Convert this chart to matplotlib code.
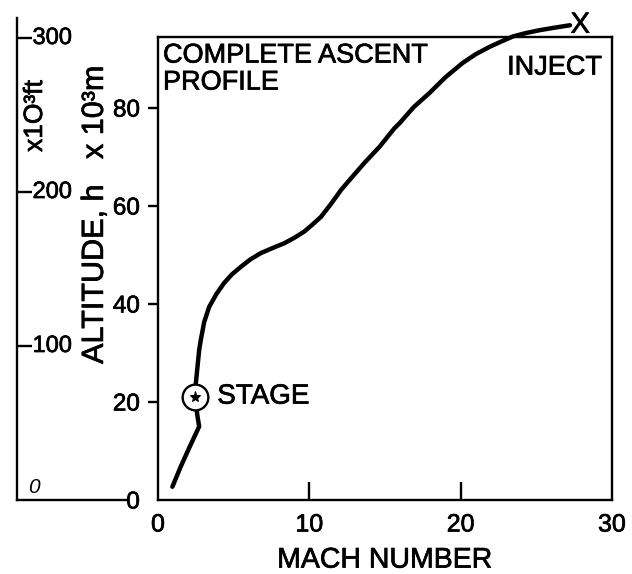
import matplotlib
matplotlib.use("Agg")
import matplotlib.pyplot as plt
import matplotlib.transforms as mtransforms
import matplotlib.patheffects as pe

plt.rcParams['font.family'] = ['Liberation Sans', 'DejaVu Sans']
heavy = [pe.withStroke(linewidth=0.5, foreground='black')]
plt.rcParams['path.effects'] = []

# ---- data ----
mach = [0.95, 1.5, 2.1, 2.72, 2.60, 2.45, 2.50, 2.72, 2.83, 3.05, 3.38, 3.85, 4.37,
        4.9, 5.48, 6.1, 6.80, 7.55, 8.34, 9.0, 9.67, 10.2, 10.77, 11.4, 12.10,
        12.85, 13.64, 14.64, 15.63, 15.96, 16.9, 17.95, 19.0, 20.13, 21.0, 21.92,
        22.7, 23.44, 24.3, 25.23, 26.2, 27.22]
alt = [2.7, 6.8, 10.9, 15.0, 17.3, 21.1, 23.8, 30.6, 32.7, 36.3, 39.4, 42.0, 44.3,
       46.1, 47.6, 49.1, 50.4, 51.4, 52.4, 53.5, 54.8, 56.2, 57.8, 60.3, 63.3,
       66.0, 68.8, 72.1, 75.9, 76.9, 80.2, 83.1, 86.3, 89.2, 91.0, 92.5,
       93.6, 94.6, 95.3, 95.9, 96.4, 96.9]
stage_mach = [2.45]
stage_alt = [21.1]
inject_mach = 27.9
inject_alt = 97.0

x_ticks = [0, 10, 20, 30]
y_ticks_m = [0, 20, 40, 60, 80]
y_ticks_ft = [100, 200, 300]

W, H = 632, 574
fig = plt.figure(figsize=(W / 100, H / 100), dpi=100)
fig.patch.set_facecolor('white')

# main axes
ax = fig.add_axes([158 / W, 1 - 500 / H, (612 - 158) / W, (500 - 37) / H])
ax.set_xlim(0, 30)
ax.set_ylim(0, 94.5)
for s in ax.spines.values():
    s.set_linewidth(1.7)
    s.set_color('black')

ax.plot(mach, alt, color='black', lw=3.2, solid_capstyle='round',
        solid_joinstyle='round', clip_on=False, zorder=3)
ax.plot(stage_mach, stage_alt, 'o', ms=18.5, mfc='white', mec='black', mew=1.7,
        zorder=4, clip_on=False)
ax.plot(stage_mach, stage_alt, '*', ms=8, mfc='black', mec='black', mew=0.8,
        zorder=5)
ax.annotate('STAGE', xy=(stage_mach[0], stage_alt[0]), xytext=(16, 0),
            textcoords='offset points', ha='left', va='center', fontsize=20,
            path_effects=heavy)

ax.text(inject_mach, inject_alt, 'X', ha='center', va='center', fontsize=21,
        clip_on=False, path_effects=heavy)
ax.text(0.978, 0.962, 'INJECT', transform=ax.transAxes, ha='right', va='top',
        fontsize=19.5, path_effects=heavy)
ax.text(0.011, 0.988, 'COMPLETE ASCENT\nPROFILE', transform=ax.transAxes,
        ha='left', va='top', fontsize=19.5, linespacing=1.05, path_effects=heavy)

ax.set_xticks(x_ticks)
ax.set_xticklabels([str(v) for v in x_ticks])
ax.set_yticks(y_ticks_m)
ax.set_yticklabels([str(v) for v in y_ticks_m])
ax.tick_params(axis='x', direction='in', length=13, width=1.7, pad=9,
               labelsize=18)
ax.tick_params(axis='y', direction='out', length=7, width=1.7, pad=6,
               labelsize=17.5)
for t in ax.xaxis.get_major_ticks():
    pass
xt = ax.xaxis.get_major_ticks()
xt[0].tick1line.set_visible(False)
xt[-1].tick1line.set_visible(False)
ax.yaxis.get_major_ticks()[0].tick1line.set_visible(False)
for lab in ax.get_xticklabels() + ax.get_yticklabels():
    lab.set_path_effects(heavy)
ax.set_xlabel('MACH NUMBER', fontsize=20.5, labelpad=8, path_effects=heavy)
ax.text(-0.139, 0.616, 'ALTITUDE, h   x 10³m', transform=ax.transAxes,
        rotation=90, ha='center', va='center', fontsize=22, path_effects=heavy)

# secondary feet scale
axf = fig.add_axes([17 / W, 1 - 500 / H, (128 - 17) / W, (500 - 18) / H])
axf.set_xlim(0, 1)
axf.set_ylim(0, 313)
axf.patch.set_alpha(0)
axf.spines['top'].set_visible(False)
axf.spines['right'].set_visible(False)
axf.spines['left'].set_linewidth(1.7)
axf.spines['bottom'].set_linewidth(1.7)
axf.set_xticks([])
axf.set_yticks(y_ticks_ft)
axf.tick_params(axis='y', direction='in', length=11, width=1.7,
                labelleft=False)
trans = mtransforms.blended_transform_factory(axf.transAxes, axf.transData)
for v in y_ticks_ft:
    axf.text(0.14, v, str(v), transform=trans, ha='left', va='center',
             fontsize=17, path_effects=heavy)
axf.text(0.1, 2, '0', transform=trans, ha='left', va='bottom', fontsize=15,
         style='italic')
fig.text(35 / W, 1 - 116 / H, 'x1O³ft', rotation=90, ha='center',
         va='center', fontsize=19, path_effects=heavy)

fig.savefig('out.png', dpi=100, facecolor='white')
